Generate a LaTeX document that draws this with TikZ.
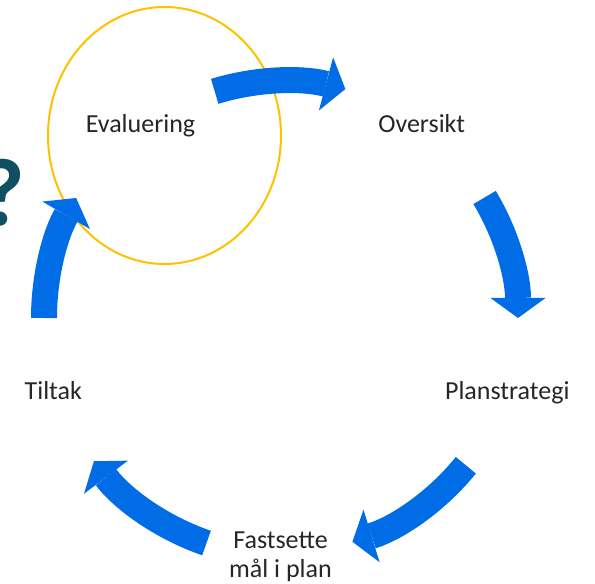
\documentclass[tikz,border=0pt]{standalone}
\usepackage{fontspec}
\setmainfont{Carlito}
\usepackage{tikz}
\usetikzlibrary{arrows.meta}
\usetikzlibrary{calc}
\definecolor{cycleblue}{RGB}{0,108,230}
\definecolor{evalgold}{RGB}{255,192,0}
\definecolor{txtgray}{RGB}{38,38,38}
\definecolor{qteal}{RGB}{15,79,98}

\begin{document}
\begin{tikzpicture}[x=1pt,y=1pt,
  lbl/.style={text=txtgray,font=\fontsize{26}{28.5}\selectfont,inner sep=0pt,anchor=base},
  cyclearrow/.style={draw=cycleblue,line width=26pt,-{Triangle[length=20pt,width=55pt,line width=0pt]}}]
\useasboundingbox (0,0) rectangle (595,584);
\coordinate (c) at (284,266); %middle of the cycle
\draw[evalgold,line width=2pt] (164.5,448.5) ellipse [x radius=116.5,y radius=128.5]; %ring
\node[lbl] (eval) at (140.5,451.7) {Evaluering};
\node[lbl] (overs) at (421.7,451.7) {Oversikt};
\node[lbl] (plan) at (507.3,184.7) {Planstrategi};
\node[lbl,align=center] (maal) at (280.5,6.5) {Fastsette\\mål i plan};
\node[lbl] (tiltak) at (53.3,184.7) {Tiltak};
\node[anchor=base east,inner sep=0pt,text=qteal,font=\fontsize{96}{96}\selectfont\bfseries] (qmark) at (25,358) {?};
\coordinate (t1) at ($(c)+(107:237)$);
\coordinate (t2) at ($(c)+(31:234)$); %arrow tails
\coordinate (t3) at ($(c)+(-39:234)$);
\coordinate (t4) at ($(c)+(-109:238)$);
\coordinate (t5) at ($(c)+(180:240)$);
\draw[cyclearrow] (t1) arc[start angle=107,end angle=75,radius=237];
\draw[cyclearrow] (t2) arc[start angle=31,end angle=0,radius=234];
\draw[cyclearrow] (t3) arc[start angle=-39,end angle=-73,radius=234];
\draw[cyclearrow] (t4) arc[start angle=-109,end angle=-143,radius=238];
\draw[cyclearrow] (t5) arc[start angle=180,end angle=150,radius=240];
\end{tikzpicture}
\end{document}
